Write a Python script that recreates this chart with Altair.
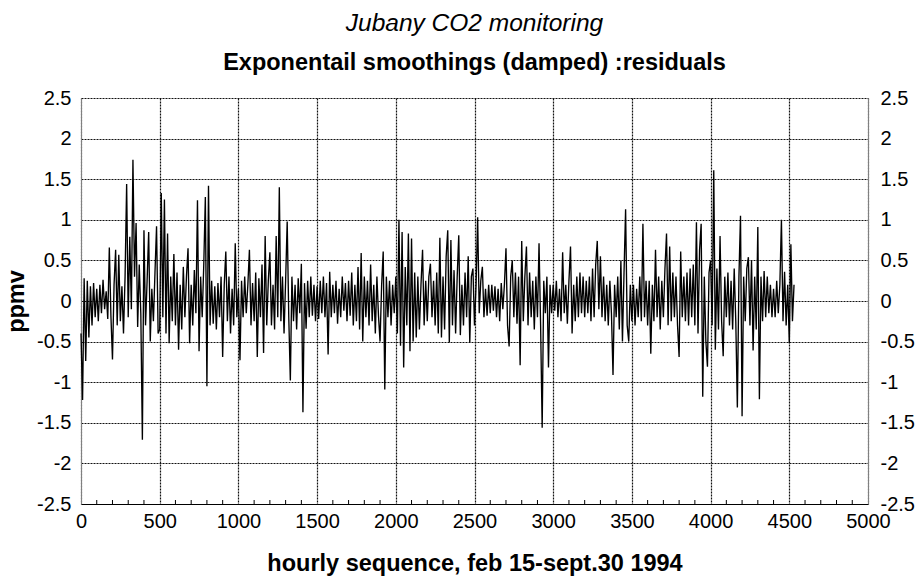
import altair as alt
import pandas as pd

# Hourly residuals of the damped exponential smoothing, one value every 10 hours
residuals = [
    -0.4, -1.22, 0.28, -0.74, 0.25, -0.45, 0.18, -0.3, 0.22, -0.2,
    0.15, -0.25, 0.2, -0.15, 0.26, -0.1, 0.12, -0.22, 0.66, -0.18,
    -0.72, 0.2, 0.63, -0.3, 0.57, -0.25, 0.18, -0.4, 0.3, 1.44,
    -0.2, 0.79, -0.1, 1.74, 0.3, 0.96, -0.32, 0.45, -0.15, -1.71,
    0.87, -0.3, 0.25, 0.85, -0.5, 0.15, -0.25, 0.35, 0.92, -0.4,
    -0.35, 1.33, -0.2, 1.25, -0.4, 0.83, -0.52, 0.3, -0.25, 0.58,
    -0.3, 0.35, -0.6, 0.2, -0.35, 0.42, -0.2, 0.3, 0.65, -0.52,
    0.2, -0.3, 0.38, -0.15, 1.24, -0.62, 0.3, -0.2, 0.45, 1.28,
    -1.05, 1.42, -0.3, 0.25, -0.28, 0.18, -0.35, 0.22, -0.2, 0.3,
    -0.69, 0.2, 0.61, -0.25, 0.3, -0.4, 0.15, -0.3, 0.71, -0.2,
    0.15, -0.73, 0.25, -0.2, 0.3, -0.15, 0.2, 0.63, -0.3, 0.22,
    -0.25, 0.35, -0.69, 0.28, -0.2, 0.45, -0.64, 0.8, -0.3, 0.25,
    0.6, -0.3, 0.2, -0.35, 0.8, -0.2, 1.4, -0.25, 0.3, -0.4,
    0.25, 0.98, -0.2, -0.98, 0.3, -0.25, 0.2, -0.35, 0.28, -0.15,
    0.46, -1.37, 0.22, -0.34, 0.25, -0.2, 0.3, -0.18, 0.2, -0.25,
    0.18, -0.22, 0.25, -0.15, 0.3, -0.2, 0.22, -0.66, 0.36, -0.2,
    0.2, -0.15, 0.25, -0.28, 0.15, -0.2, 0.3, -0.12, 0.22, -0.25,
    0.25, -0.18, 0.35, -0.3, 0.2, -0.25, 0.42, -0.35, 0.59, -0.5,
    0.3, -0.2, 0.25, -0.3, 0.45, -0.25, 0.2, -0.4, 0.3, -0.18,
    -0.5, 0.2, 0.61, -1.09, 0.3, -0.2, 0.25, -0.3, 0.2, -0.15,
    0.3, -0.4, 1.0, -0.55, 0.85, -0.82, 0.42, -0.3, 0.83, -0.62,
    0.77, -0.5, 0.35, -0.45, 0.3, -0.35, 0.2, 0.63, -0.3, 0.25,
    -0.25, 0.3, 0.46, -0.2, 0.25, -0.3, 0.35, -0.4, 0.78, -0.45,
    0.3, -0.35, 0.55, 0.87, -0.51, 0.75, -0.3, 0.38, -0.4, 0.3,
    0.81, -0.42, 0.2, -0.3, 0.35, -0.2, 0.55, -0.51, 0.3, 0.4,
    -0.3, 0.2, 1.03, -0.15, 0.25, 0.42, -0.2, 0.15, -0.18, 0.2,
    -0.15, 0.2, -0.12, 0.18, -0.2, 0.15, -0.25, 0.22, -0.1, 0.2,
    0.65, -0.3, -0.56, 0.3, 0.5, -0.2, 0.35, -0.28, 0.3, -0.79,
    0.74, -0.25, 0.3, 0.67, -0.3, 0.35, -0.2, 0.25, -0.35, 0.3,
    -0.2, 0.71, -0.3, -1.56, 0.25, -0.15, 0.3, -0.82, 0.2, -0.15,
    0.2, -0.12, 0.25, -0.2, 0.15, -0.25, 0.6, -0.15, 0.2, -0.28,
    0.25, 0.67, -0.4, 0.2, -0.25, 0.3, -0.2, 0.35, -0.15, 0.3,
    -0.2, 0.25, -0.15, 0.3, -0.25, 0.4, -0.2, 0.45, 0.74, -0.1,
    0.55, -0.2, 0.3, -0.25, 0.2, -0.3, 0.25, -0.15, -0.91, 0.2,
    -0.2, 0.3, -0.35, 0.5, -0.5, 0.35, 1.13, -0.3, -0.5, 0.2,
    -0.25, 0.2, -0.3, 0.15, -0.2, 0.3, -0.25, 0.95, -0.2, 0.25,
    -0.3, 0.25, -0.65, 0.2, -0.25, 0.63, -0.2, 0.3, -0.35, 0.25,
    -0.2, 0.4, 0.83, -0.3, 0.67, -0.25, 0.35, -0.2, 0.3, -0.3,
    -0.69, 0.61, -0.2, 0.3, -0.25, 0.35, -0.3, 0.4, -0.2, 0.45,
    -0.3, 0.97, -0.4, 0.63, 0.95, -1.18, 0.3, -0.5, -0.81, 0.35,
    0.5, -0.3, 1.61, -0.6, 0.4, -0.35, 0.8, -0.25, -0.68, 0.3,
    -0.2, 0.35, -0.3, 0.25, -0.35, 0.4, -0.25, -1.31, 0.3, 1.05,
    -1.42, 0.3, -0.25, 0.4, 0.54, -0.3, 0.5, -0.61, 0.3, -0.35,
    0.91, -1.21, 0.3, -0.25, 0.37, -0.2, 0.3, -0.15, 0.2, -0.2,
    0.15, -0.2, 0.25, -0.15, 0.2, 1.0, -0.25, 0.36, -0.3, 0.2,
    -0.52, 0.7, -0.25, 0.2,
]
hours = [10 * i for i in range(len(residuals))]

x_ticks = [0, 500, 1000, 1500, 2000, 2500, 3000, 3500, 4000, 4500, 5000]
minor_ticks = [h for h in range(100, 5000, 100) if h % 500 != 0]
y_ticks = [-2.5, -2, -1.5, -1, -0.5, 0, 0.5, 1, 1.5, 2, 2.5]

FONT = "Liberation Sans"
W, H = 787, 406

df = pd.DataFrame({"hour": hours, "residual": residuals})
ticks_df = pd.DataFrame({"hour": minor_ticks})

x_scale = alt.Scale(domain=[0, 5000], nice=False, zero=False)
y_scale = alt.Scale(domain=[-2.5, 2.5], nice=False, zero=False)
num_label = "datum.value < 0 ? '-' + format(-datum.value, '') : format(datum.value, '')"
grid_style = dict(grid=True, gridColor="#111111", gridDash=[2, 1], gridWidth=1.2)

x_axis = alt.Axis(
    values=x_ticks,
    format="d",
    title="hourly sequence, feb 15-sept.30 1994",
    titleFont=FONT, titleFontSize=23.5, titleFontWeight="bold", titleColor="black",
    titleX=W / 2, titleY=66, titleBaseline="alphabetic", titleAlign="center",
    labelFont=FONT, labelFontSize=20, labelColor="black", labelPadding=7,
    labelFlush=False, labelOverlap=False,
    ticks=False, domainColor="black", domainWidth=1,
    **grid_style,
)
x_enc = alt.X("hour:Q", scale=x_scale, axis=x_axis)

line = alt.Chart(df).mark_line(color="black", strokeWidth=1.35).encode(
    x=x_enc,
    y=alt.Y(
        "residual:Q",
        scale=y_scale,
        axis=alt.Axis(
            orient="left",
            values=y_ticks,
            labelExpr=num_label,
            title="ppmv",
            titleFont=FONT, titleFontSize=23.5, titleFontWeight="bold", titleColor="black",
            titleAngle=-90, titleX=-65, titleY=H / 2, titleBaseline="middle", titleAlign="center",
            labelFont=FONT, labelFontSize=20, labelColor="black", labelPadding=10,
            labelFlush=False, labelOverlap=False,
            ticks=False, domainColor="#808080", domainWidth=1,
            **grid_style,
        ),
    ),
)

# Duplicate axis on the right-hand side
right_axis = alt.Chart(df).mark_line(strokeOpacity=0).encode(
    x=x_enc,
    y=alt.Y(
        "residual:Q",
        scale=y_scale,
        axis=alt.Axis(
            orient="right",
            values=y_ticks,
            labelExpr=num_label,
            title=None,
            labelFont=FONT, labelFontSize=20, labelColor="black", labelPadding=12,
            labelFlush=False, labelOverlap=False,
            ticks=False, domainColor="#808080", domainWidth=1, grid=False,
        ),
    ),
)

# Small inward minor ticks along the bottom edge
minor = alt.Chart(ticks_df).mark_rule(color="black", strokeWidth=1).encode(
    x=x_enc,
    y=alt.value(H),
    y2=alt.value(H - 4),
)

chart = (
    alt.layer(line, right_axis, minor)
    .resolve_scale(y="shared")
    .resolve_axis(y="independent")
    .properties(
        width=W,
        height=H,
        autosize=alt.AutoSizeParams(type="none"),
        padding={"left": 81, "top": 98, "right": 50, "bottom": 73},
        title=alt.Title(
            "Jubany CO2 monitoring",
            subtitle="Exponentail smoothings (damped) :residuals",
            font=FONT, fontSize=24.5, fontStyle="italic", fontWeight="normal", color="black",
            subtitleFont=FONT, subtitleFontSize=23.5, subtitleFontWeight="bold", subtitleColor="black",
            subtitlePadding=14, anchor="middle", offset=13,
        ),
        background="white",
    )
    .configure_view(stroke=None)
)

chart.save("out.html", embed_options={"renderer": "svg", "actions": False})
